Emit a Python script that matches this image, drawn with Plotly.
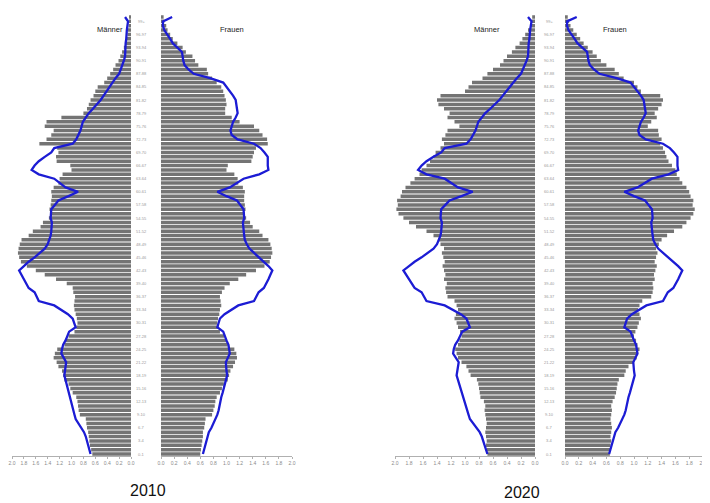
import plotly.graph_objects as go

AGES = list(range(101))

# 2010 bars (percent share per age)
M2010 = [0.65, 0.67, 0.69, 0.70, 0.71, 0.72, 0.74, 0.75, 0.76, 0.86,
         0.88, 0.89, 0.90, 0.92, 0.98, 1.02, 1.05, 1.12, 1.14, 1.16,
         1.22, 1.25, 1.30, 1.28, 1.24, 1.12, 1.10, 1.05, 0.95, 0.92,
         0.90, 0.91, 0.93, 0.95, 0.96, 0.95, 0.94, 0.97, 0.98, 1.08,
         1.26, 1.45, 1.60, 1.75, 1.85, 1.88, 1.90, 1.89, 1.87, 1.84,
         1.72, 1.65, 1.52, 1.48, 1.38, 1.36, 1.37, 1.35, 1.34, 1.33,
         1.34, 1.30, 1.22, 1.20, 1.15, 1.00, 1.02, 1.25, 1.26, 1.22,
         1.24, 1.54, 1.42, 1.34, 1.30, 1.45, 1.42, 1.17, 0.80, 0.74,
         0.71, 0.68, 0.63, 0.60, 0.56, 0.45, 0.40, 0.35, 0.30, 0.26,
         0.21, 0.18, 0.15, 0.12, 0.10, 0.08, 0.06, 0.05, 0.04, 0.03, 0.03]
F2010 = [0.60, 0.61, 0.62, 0.63, 0.64, 0.64, 0.66, 0.67, 0.68, 0.78,
         0.80, 0.82, 0.83, 0.85, 0.90, 0.93, 0.96, 1.02, 1.04, 1.06,
         1.10, 1.13, 1.16, 1.15, 1.12, 1.02, 1.00, 0.97, 0.90, 0.88,
         0.86, 0.87, 0.89, 0.90, 0.92, 0.91, 0.90, 0.93, 0.97, 1.05,
         1.18, 1.30, 1.45, 1.58, 1.66, 1.68, 1.70, 1.69, 1.67, 1.64,
         1.55, 1.50, 1.40, 1.36, 1.30, 1.28, 1.29, 1.28, 1.27, 1.27,
         1.28, 1.25, 1.18, 1.17, 1.12, 1.00, 1.02, 1.38, 1.40, 1.42,
         1.45, 1.63, 1.62, 1.55, 1.50, 1.42, 1.20, 1.08, 0.98, 0.98,
         1.00, 0.99, 0.97, 0.95, 0.92, 0.85, 0.78, 0.72, 0.70, 0.57,
         0.52, 0.48, 0.38, 0.33, 0.25, 0.18, 0.14, 0.10, 0.08, 0.05, 0.04]

# 2020 bars
M2020 = [0.68, 0.69, 0.70, 0.69, 0.70, 0.71, 0.70, 0.69, 0.70, 0.71,
         0.72, 0.71, 0.73, 0.78, 0.79, 0.80, 0.81, 0.83, 0.92, 0.95,
         0.98, 1.05, 1.10, 1.12, 1.14, 1.10, 1.08, 1.05, 1.07, 1.10,
         1.12, 1.15, 1.13, 1.10, 1.12, 1.15, 1.25, 1.27, 1.28, 1.26,
         1.30, 1.28, 1.30, 1.32, 1.29, 1.31, 1.33, 1.30, 1.35, 1.38,
         1.45, 1.55, 1.70, 1.80, 1.88, 1.95, 1.98, 1.96, 1.97, 1.92,
         1.90, 1.85, 1.78, 1.72, 1.65, 1.62, 1.55, 1.50, 1.45, 1.42,
         1.35, 1.30, 1.33, 1.28, 1.25, 1.08, 1.15, 1.25, 1.22, 1.30,
         1.38, 1.40, 1.35, 1.00, 0.95, 0.90, 0.75, 0.68, 0.60, 0.50,
         0.45, 0.40, 0.33, 0.28, 0.22, 0.18, 0.14, 0.10, 0.07, 0.05, 0.04]
F2020 = [0.65, 0.66, 0.66, 0.67, 0.66, 0.67, 0.68, 0.67, 0.66, 0.67,
         0.68, 0.67, 0.69, 0.72, 0.74, 0.75, 0.76, 0.78, 0.86, 0.88,
         0.92, 1.00, 1.04, 1.06, 1.08, 1.05, 1.03, 1.00, 1.02, 1.05,
         1.07, 1.10, 1.08, 1.06, 1.08, 1.12, 1.25, 1.27, 1.28, 1.27,
         1.30, 1.29, 1.31, 1.33, 1.30, 1.32, 1.34, 1.32, 1.36, 1.40,
         1.48, 1.58, 1.70, 1.76, 1.82, 1.86, 1.88, 1.85, 1.86, 1.82,
         1.80, 1.76, 1.70, 1.66, 1.62, 1.60, 1.55, 1.50, 1.47, 1.45,
         1.42, 1.38, 1.40, 1.36, 1.35, 1.20, 1.25, 1.33, 1.30, 1.35,
         1.40, 1.42, 1.38, 1.10, 1.05, 1.00, 0.85, 0.78, 0.72, 0.60,
         0.52, 0.46, 0.40, 0.33, 0.27, 0.22, 0.17, 0.12, 0.08, 0.06, 0.04]

# reference lines (blue)
LINE_M = [0.68, 0.70, 0.71, 0.74, 0.76, 0.79, 0.84, 0.88, 0.93, 0.95,
          0.97, 0.98, 1.00, 1.02, 1.04, 1.06, 1.08, 1.10, 1.12, 1.11,
          1.10, 1.09, 1.13, 1.17, 1.16, 1.14, 1.10, 1.07, 1.04, 0.93,
          0.95, 0.98, 1.06, 1.18, 1.29, 1.55, 1.58, 1.62, 1.72, 1.76,
          1.80, 1.84, 1.88, 1.80, 1.72, 1.62, 1.54, 1.45, 1.40, 1.37,
          1.35, 1.34, 1.34, 1.33, 1.35, 1.34, 1.34, 1.28, 1.22, 1.05,
          0.89, 1.10, 1.20, 1.29, 1.55, 1.67, 1.62, 1.55, 1.45, 1.34,
          1.29, 0.98, 0.92, 0.88, 0.85, 0.83, 0.81, 0.76, 0.71, 0.64,
          0.57, 0.51, 0.46, 0.41, 0.37, 0.32, 0.26, 0.20, 0.17, 0.14,
          0.12, 0.10, 0.10, 0.09, 0.09, 0.08, 0.08, 0.07, 0.06, 0.05, 0.10]
LINE_F = [0.64, 0.66, 0.67, 0.69, 0.71, 0.73, 0.77, 0.80, 0.84, 0.86,
          0.88, 0.89, 0.91, 0.92, 0.94, 0.96, 0.98, 1.00, 1.01, 1.00,
          0.99, 0.99, 1.02, 1.05, 1.04, 1.03, 1.00, 0.97, 0.95, 0.86,
          0.88, 0.90, 0.97, 1.08, 1.18, 1.42, 1.45, 1.49, 1.57, 1.61,
          1.64, 1.67, 1.70, 1.64, 1.57, 1.49, 1.42, 1.35, 1.31, 1.28,
          1.27, 1.26, 1.26, 1.25, 1.27, 1.26, 1.26, 1.21, 1.16, 1.00,
          0.86, 1.05, 1.16, 1.26, 1.50, 1.64, 1.63, 1.63, 1.63, 1.58,
          1.52, 1.42, 1.17, 1.08, 1.06, 1.08, 1.10, 1.14, 1.17, 1.16,
          1.15, 1.14, 1.10, 1.05, 1.00, 0.95, 0.75, 0.50, 0.42, 0.36,
          0.34, 0.33, 0.32, 0.25, 0.18, 0.14, 0.09, 0.05, 0.03, 0.03, 0.17]

TICKS = [0.0, 0.2, 0.4, 0.6, 0.8, 1.0, 1.2, 1.4, 1.6, 1.8, 2.0]
TICK_TEXT = ["0.0", "0.2", "0.4", "0.6", "0.8", "1.0", "1.2", "1.4", "1.6", "1.8", "2.0"]
AGE_LABEL_AGES = list(range(0, 100, 3))
AGE_LABELS = [f"{a}-{a+1}" for a in AGE_LABEL_AGES[:-1]] + ["99+"]

# the page body has an 8px margin: the figure is drawn at (8, 8)
OFF = 8
W, H = 710 - OFF, 503 - OFF
def px(x): return (x - OFF) / W
def py(y): return 1 - (y - OFF) / H

BAR_COLOR = "#747474"
LINE_COLOR = "#1c1cd4"

fig = go.Figure()

panels = [
    ("x",  M2010, LINE_M, (12, 131),  True),
    ("x2", F2010, LINE_F, (161, 292), False),
    ("x3", M2020, LINE_M, (395, 535), True),
    ("x4", F2020, LINE_F, (565, 703), False),
]

layout_axes = {}
for name, bars, line, (x0, x1), rev in panels:
    fig.add_trace(go.Bar(x=bars, y=AGES, orientation="h", xaxis=name, yaxis="y",
                         marker=dict(color=BAR_COLOR, line=dict(width=0)),
                         showlegend=False, hoverinfo="skip"))
    fig.add_trace(go.Scatter(x=line, y=AGES, mode="lines", xaxis=name, yaxis="y",
                             line=dict(color=LINE_COLOR, width=2.3),
                             showlegend=False, hoverinfo="skip"))
    key = "xaxis" if name == "x" else "xaxis" + name[1:]
    layout_axes[key] = dict(
        domain=[px(x0), px(x1)],
        range=[2.0, 0.0] if rev else [0.0, 2.0],
        anchor="y", showgrid=False, zeroline=False, automargin=False,
        showline=True, linecolor="#b0b0b0", linewidth=1,
        ticks="outside", ticklen=2, tickcolor="#b0b0b0",
        tickvals=TICKS, ticktext=TICK_TEXT, ticklabeloverflow="allow",
        tickfont=dict(size=5, color="#8a8a8a", family="Liberation Sans"),
        fixedrange=True,
    )

fig.update_layout(
    template="none",
    width=W, height=H,
    margin=dict(l=0, r=0, t=0, b=0, autoexpand=False),
    paper_bgcolor="white", plot_bgcolor="white",
    bargap=0.2,
    yaxis=dict(domain=[py(456.2), py(14.8)], range=[-0.5, 100.5],
               showgrid=False, zeroline=False, showline=False, automargin=False,
               showticklabels=False, ticks="", anchor="x", fixedrange=True),
    **layout_axes,
)

ann = []
for cx in (141, 549):
    for a, t in zip(AGE_LABEL_AGES, AGE_LABELS):
        ann.append(dict(x=px(cx), y=a, xref="paper", yref="y", text=t,
                        xanchor="center", yanchor="middle", showarrow=False,
                        font=dict(size=4, color="#9a9a9a", family="Liberation Sans")))
for x, y, t in [(110, 30, "Männer"), (232, 30, "Frauen"),
                (487, 30, "Männer"), (615, 30, "Frauen")]:
    ann.append(dict(x=px(x), y=py(y), xref="paper", yref="paper", text=t,
                    xanchor="center", yanchor="middle", showarrow=False,
                    font=dict(size=7.5, color="#222222", family="Liberation Sans")))
for x, y, t in [(148, 490, "2010"), (522, 492, "2020")]:
    ann.append(dict(x=px(x), y=py(y), xref="paper", yref="paper", text=t,
                    xanchor="center", yanchor="middle", showarrow=False,
                    font=dict(size=16, color="#111111", family="Liberation Sans")))
fig.update_layout(annotations=ann)

fig.write_html("out.html")
